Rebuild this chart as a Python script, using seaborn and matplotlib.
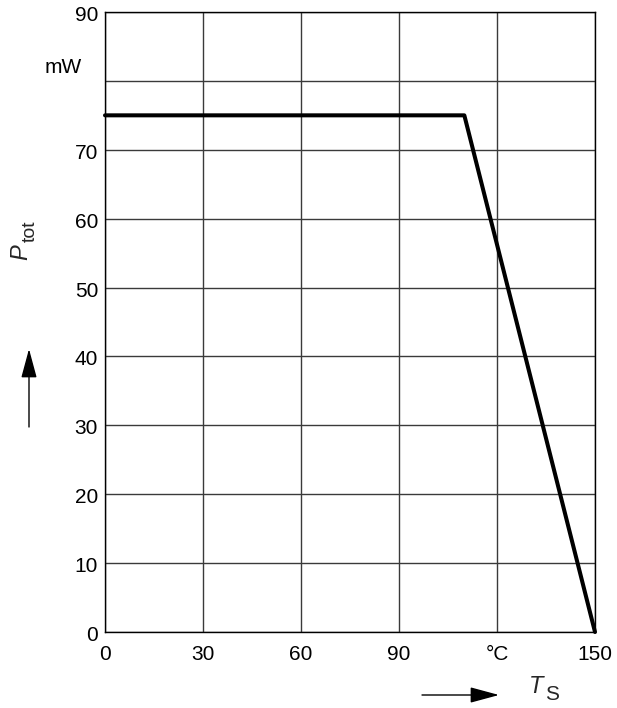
import matplotlib
matplotlib.use("Agg")
import matplotlib.pyplot as plt
import matplotlib.transforms as mtransforms
import seaborn as sns
import pandas as pd

temps = [0, 110, 150]
power = [75, 75, 0]
x_ticks = [0, 30, 60, 90, 120, 150]
x_labels = ["0", "30", "60", "90", "°C", "150"]
y_ticks = [0, 10, 20, 30, 40, 50, 60, 70, 80, 90]
y_labels = ["0", "10", "20", "30", "40", "50", "60", "70", "mW", "90"]

sns.set_style("white")
plt.rcParams['font.family'] = ['Liberation Sans', 'DejaVu Sans']

W, H = 617, 708
fig = plt.figure(figsize=(W/100, H/100), dpi=100)
ax = fig.add_axes([105/W, 1-632/H, 490/W, 620/H])

df = pd.DataFrame({"T": temps, "P": power})
sns.lineplot(data=df, x="T", y="P", ax=ax, color="black", linewidth=2.9, zorder=5, clip_on=False)

ax.set_xlim(0, 150)
ax.set_ylim(0, 90)
ax.set_xticks(x_ticks)
ax.set_xticklabels(x_labels)
ax.set_yticks(y_ticks)
ax.set_yticklabels(y_labels)
ax.tick_params(axis='both', length=0, labelsize=15, colors='black')
ax.tick_params(axis='x', pad=9)
ax.tick_params(axis='y', pad=5)
for lbl in ax.get_yticklabels():
    lbl.set_verticalalignment('center')
    if lbl.get_text() == "mW":
        off = mtransforms.ScaledTranslation(-16/100, 13/100, fig.dpi_scale_trans)
    else:
        off = mtransforms.ScaledTranslation(0, -3.5/100, fig.dpi_scale_trans)
    lbl.set_transform(lbl.get_transform() + off)
ax.grid(True, color='#3a3a3a', linewidth=1.0)
for s in ax.spines.values():
    s.set_color('black')
    s.set_linewidth(1.0)
ax.set_xlabel("")
ax.set_ylabel("")

# y axis label P_tot (rotated)
fig.text(27/W, 1-252/H, "P", rotation=90, rotation_mode='anchor', ha='center', va='baseline',
         fontsize=17, fontstyle='italic')
fig.text(35/W, 1-231/H, "tot", rotation=90, rotation_mode='anchor', ha='center', va='baseline',
         fontsize=14)
# x axis label T_S
fig.text(536/W, 1-693/H, "T", ha='center', va='baseline', fontsize=17, fontstyle='italic')
fig.text(552/W, 1-700/H, "S", ha='center', va='baseline', fontsize=15)

arrow_style = '-|>,head_length=1.0,head_width=0.27'
ax.annotate("", xy=(29/W, 1-349/H), xytext=(29/W, 1-427/H), xycoords='figure fraction',
            arrowprops=dict(arrowstyle=arrow_style, color='black', lw=1.0, mutation_scale=18,
                            shrinkA=0, shrinkB=0))
ax.annotate("", xy=(499/W, 1-695/H), xytext=(422/W, 1-695/H), xycoords='figure fraction',
            arrowprops=dict(arrowstyle=arrow_style, color='black', lw=1.0, mutation_scale=18,
                            shrinkA=0, shrinkB=0))

fig.savefig("out.png", dpi=100)
